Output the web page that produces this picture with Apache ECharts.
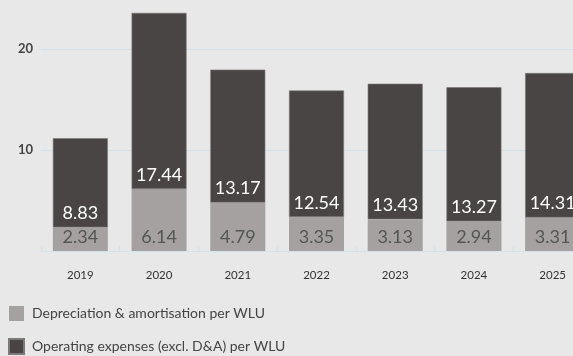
<!DOCTYPE html>
<html>
<head>
<meta charset="utf-8">
<script src="https://cdn.jsdelivr.net/npm/echarts@6/dist/echarts.min.js"></script>
<style>
  html, body { margin: 0; padding: 0; background: #e8e8e8; }
  #chart { width: 573px; height: 356px; }
</style>
</head>
<body>
<div id="chart"></div>
<script>
// Cost per WLU, split into D&A and other operating expenses
const years = ['2019', '2020', '2021', '2022', '2023', '2024', '2025'];
const daPerWlu = [2.34, 6.14, 4.79, 3.35, 3.13, 2.94, 3.31];
const opexPerWlu = [8.83, 17.44, 13.17, 12.54, 13.43, 13.27, 14.31];
const yTickLabels = [10, 20];

const seriesNames = [
  'Depreciation & amortisation per WLU',
  'Operating expenses (excl. D&A) per WLU'
];

const font = 'Lato, "Open Sans", sans-serif';
const chart = echarts.init(document.getElementById('chart'), null, { renderer: 'canvas' });

const barLabel = (color) => ({
  show: true,
  position: 'insideBottom',
  distance: 5,
  color: color,
  fontFamily: font,
  fontSize: 18,
  formatter: (p) => p.value.toFixed(2)
});

chart.setOption({
  backgroundColor: '#e8e8e8',
  animation: false,
  grid: {
    left: 41, right: -19, top: -52, bottom: 105,
    containLabel: false,
    outerBoundsMode: 'none'
  },
  legend: {
    orient: 'vertical',
    left: 8,
    top: 306,
    height: 60,
    padding: 0,
    itemWidth: 15,
    itemHeight: 15,
    itemGap: 17,
    icon: 'rect',
    textStyle: { fontFamily: font, fontSize: 14, color: '#444', padding: [0, 0, 0, 3] },
    data: seriesNames
  },
  xAxis: {
    type: 'category',
    data: years,
    axisLine: { show: true, lineStyle: { color: '#d3e2eb', width: 1 } },
    axisTick: { show: true, inside: true, length: 5, lineStyle: { color: '#d3e2eb' } },
    axisLabel: { margin: 18, fontFamily: font, fontSize: 11.5, color: '#333' }
  },
  yAxis: {
    type: 'value',
    min: 0,
    max: 30,
    interval: 10,
    axisLine: { show: false },
    axisTick: { show: false },
    splitLine: { lineStyle: { color: '#d3e2eb', width: 1 } },
    axisLabel: {
      margin: 8,
      fontFamily: font,
      fontSize: 13,
      fontWeight: 'bold',
      color: '#444',
      formatter: (v) => (yTickLabels.includes(v) ? String(v) : '')
    }
  },
  series: [
    {
      name: seriesNames[0],
      type: 'bar',
      stack: 'cost',
      barWidth: 55,
      data: daPerWlu,
      itemStyle: { color: '#a4a1a0' },
      label: barLabel('#555')
    },
    {
      name: seriesNames[1],
      type: 'bar',
      stack: 'cost',
      barWidth: 55,
      data: opexPerWlu,
      itemStyle: { color: '#494544', borderColor: '#7d7978', borderWidth: 0.6 },
      label: barLabel('#ffffff')
    }
  ]
});
</script>
</body>
</html>
